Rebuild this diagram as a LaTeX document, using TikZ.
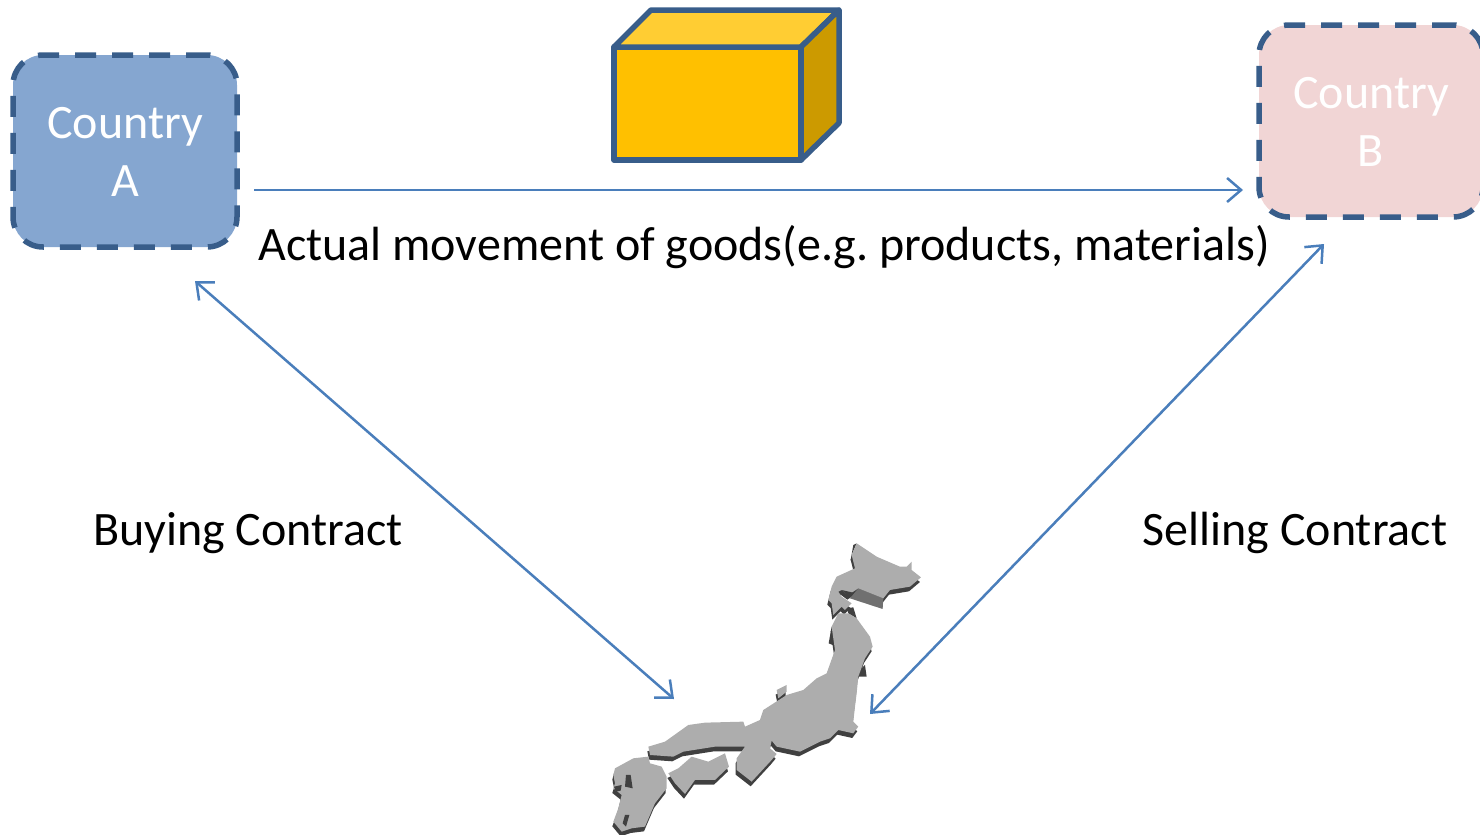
\documentclass[tikz,border=0pt]{standalone}
\usepackage{fontspec}
\setmainfont{Carlito}
\usetikzlibrary{positioning,arrows.meta}
\definecolor{edgeblue}{HTML}{385D8A}
\definecolor{arrowblue}{HTML}{4A7EBB}
\definecolor{fillA}{HTML}{85A6D0}
\definecolor{fillB}{HTML}{F1D5D5}
\definecolor{cratefront}{HTML}{FFC000}
\definecolor{cratetop}{HTML}{FFCD33}
\definecolor{crateside}{HTML}{CC9A00}
\definecolor{mapgray}{HTML}{ADADAD}
\definecolor{mapdark}{HTML}{404040}
\definecolor{mapside}{HTML}{707070}
\frenchspacing
\tikzset{
  barb/.tip = {Straight Barb[length=14pt,width=24pt]},
  countrybox/.style = {rectangle, draw = edgeblue, rounded corners=30pt,
                line width = 5.5pt, dash pattern = on 21pt off 16pt,
                minimum width = 224pt, minimum height = 192pt,
                inner sep = 0pt, outer sep = 0pt, align = center,
                text = white, font = \fontsize{48}{58}\selectfont},
  arr/.style  = {barb-barb, line width=2.5pt, draw=arrowblue},
  arrone/.style = {-barb, line width=2.5pt, draw=arrowblue},
  lab/.style  = {font=\fontsize{48}{58}\selectfont, anchor=base, inner sep=0pt},
  crate/.style = {draw=edgeblue, line width=5.5pt, line join=round}
}
% outlines of the map, in units of the zoomed crop
\newcommand{\hokkaido}{(800,40) -- (860,80) -- (930,110) -- (950,110) -- (965,95) -- (965,120) -- (993,142) -- (960,170) -- (900,180) -- (880,205) -- (805,175) -- (775,195) -- (755,180) -- (745,185) -- (755,200) -- (785,220) -- (765,240) -- (755,230) -- (730,255) -- (725,220) -- (715,210) -- (725,170) -- (740,140) -- (795,115) -- (785,75) -- cycle}
\newcommand{\honshu}{(745,250) -- (775,250) -- (800,265) -- (840,320) -- (848,350) -- (825,385) -- (805,440) -- (800,490) -- (795,530) -- (790,575) -- (805,590) -- (790,610) -- (745,600) -- (720,625) -- (690,635) -- (660,650) -- (630,665) -- (560,650) -- (545,632) -- (540,655) -- (560,672) -- (545,690) -- (485,755) -- (440,720) -- (440,685) -- (465,650) -- (375,650) -- (280,665) -- (250,680) -- (180,675) -- (175,650) -- (225,635) -- (295,585) -- (345,578) -- (460,575) -- (465,590) -- (510,570) -- (520,540) -- (590,495) -- (640,480) -- (680,445) -- (710,430) -- (735,360) -- (725,290) -- cycle}
\newcommand{\shikoku}{(235,730) -- (265,715) -- (305,680) -- (355,695) -- (405,670) -- (417,710) -- (375,750) -- (315,750) -- (285,792) -- (255,760) -- cycle}
\newcommand{\kyushu}{(75,715) -- (130,685) -- (175,680) -- (180,700) -- (215,710) -- (230,740) -- (230,775) -- (195,820) -- (165,890) -- (125,895) -- (95,905) -- (70,875) -- (85,835) -- (95,795) -- (70,775) -- (75,760) -- (70,735) -- cycle}
\newcommand{\sado}{(560,480) -- (590,465) -- (590,485) -- (565,505) -- cycle}

\begin{document}
\begin{tikzpicture}[x=1pt,y=-1pt]
    \clip (0,0) rectangle (1480,835);

    \node[countrybox,fill=fillA] (countryA) at (125,151) {\rule{0pt}{33pt}Country\\A};
    \node[countrybox,fill=fillB] (countryB) at (1371,121) {\rule{0pt}{33pt}Country\\B};

    % the crate
    \filldraw[crate,fill=cratefront] (614,47) rectangle (801,160);
    \filldraw[crate,fill=cratetop] (614,47) -- (651,10) -- (839,10) -- (801,47) -- cycle;
    \filldraw[crate,fill=crateside] (801,47) -- (839,10) -- (839,123) -- (801,160) -- cycle;

    % the map
    \begin{scope}[shift={(590,530)},x=0.3333pt,y=-0.3333pt]
      \begin{scope}[shift={(-3,14)}]
        \fill[mapdark] \hokkaido;
        \fill[mapdark] \honshu;
        \fill[mapdark] \shikoku;
        \fill[mapdark] \kyushu;
        \fill[mapdark] \sado;
      \end{scope}
      \fill[mapside] (805,175) -- (880,205) -- (878,237) -- (780,205) -- cycle;
      \fill[mapdark] (790,45) -- (800,40) -- (785,75) -- (795,115) -- (782,90) -- cycle;
      \fill[mapdark] (770,235) -- (790,232) -- (800,265) -- (775,250) -- cycle;
      \fill[mapdark] (725,290) -- (716,340) -- (740,350) -- (735,320) -- cycle;
      \fill[mapdark] (800,430) -- (825,405) -- (830,440) -- (805,440) -- cycle;
      \fill[mapgray] \hokkaido;
      \fill[mapgray] \honshu;
      \fill[mapgray] \shikoku;
      \fill[mapgray] \kyushu;
      \fill[mapgray] \sado;
      \fill[mapdark] (755,180) -- (790,188) -- (775,197) -- cycle;
      \fill[mapdark] (108,735) -- (122,735) -- (128,775) -- (105,770) -- cycle;
      \fill[mapdark] (72,770) -- (95,765) -- (92,782) -- (78,785) -- cycle;
      \fill[mapdark] (105,855) -- (118,855) -- (108,890) -- (98,880) -- cycle;
    \end{scope}
    \node[minimum width=310pt,minimum height=290pt,inner sep=0pt] (japan) at (767,690) {};

    % ends of the connectors
    \coordinate (goodsstart) at ([shift={(17,39)}]countryA.east);
    \coordinate (goodsend) at ([shift={(-16,69)}]countryB.west);
    \coordinate (buyA) at ([shift={(70,130)}]countryA.center);
    \coordinate (buyJ) at ([shift={(-93,9)}]japan.center);
    \coordinate (sellB) at ([shift={(-47,123)}]countryB.center);
    \coordinate (sellJ) at ([shift={(103,24)}]japan.center);

    \draw[arrone] (goodsstart) -- (goodsend);
    \draw[arr] (buyA) -- (buyJ);
    \draw[arr] (sellB) -- (sellJ);

    \node[lab] (goods) at (764,260) {Actual movement of goods(e.g. products, materials)};
    \node[lab] (buying) at (248,545) {Buying Contract};
    \node[lab] (selling) at (1295,545) {Selling Contract};
\end{tikzpicture}
\end{document}
